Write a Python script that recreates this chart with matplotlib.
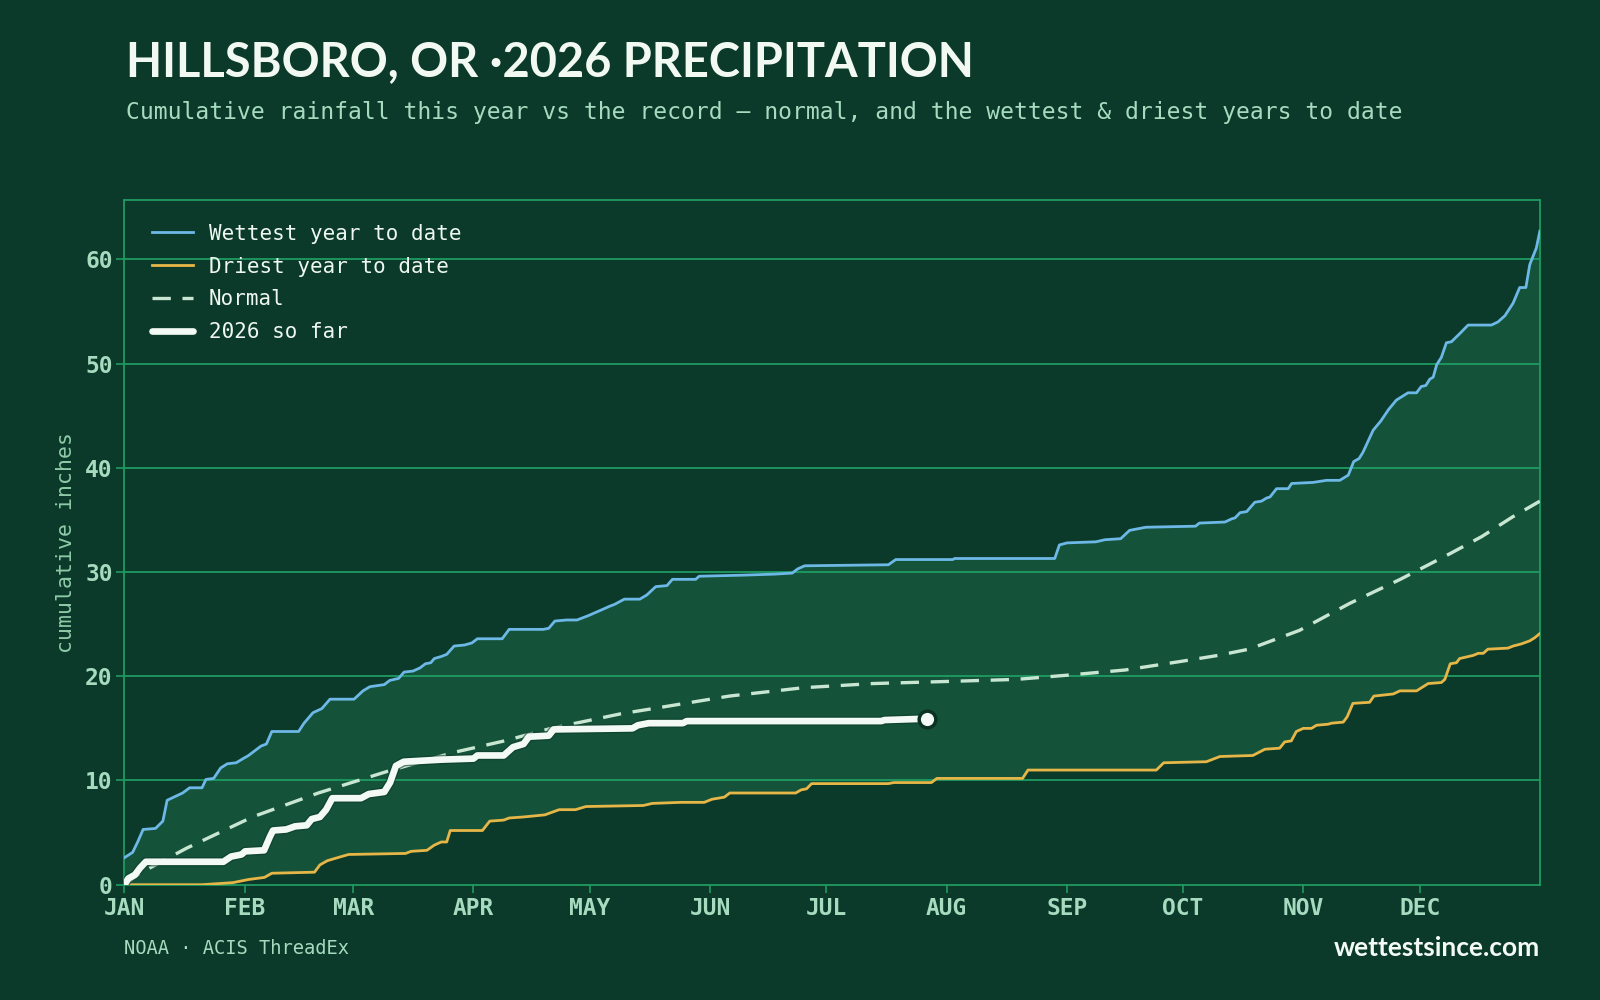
import numpy as np
import matplotlib
matplotlib.use("Agg")
import matplotlib.pyplot as plt
import matplotlib.patheffects as pe

# colours
BG = "#0b3a2a"
BAND = "#145339"
GRID = "#1f9b62"
BLUE = "#6db8e6"
GOLD = "#e6b648"
NORM = "#c9e6d3"
WHITE = "#f3faf5"
MINT = "#a6dbbf"

# month ticks (day of year, Jan 1 = 0)
month_days = [0, 31, 59, 90, 120, 151, 181, 212, 243, 273, 304, 334]
month_labels = ["JAN", "FEB", "MAR", "APR", "MAY", "JUN",
                "JUL", "AUG", "SEP", "OCT", "NOV", "DEC"]

# wettest year to date
wet_day = [0, 2.1, 3.4, 4.8, 8.0, 9.9, 11.0, 12.7, 15.0, 16.8, 20.0, 21.0, 23.0, 24.8,
           26.5, 28.8, 30.6, 32.0, 35.2, 36.6, 38.0, 44.9, 46.3, 48.6, 50.9, 53.0, 59.2,
           61.5, 63.3, 67.0, 68.4, 70.7, 72.1, 74.4, 76.2, 77.6, 79.0, 79.9, 81.7, 83.1,
           85.0, 87.7, 89.6, 91.0, 97.4, 99.2, 108.0, 109.4, 111.0, 114.0, 116.7, 119.5,
           123.2, 125.0, 126.4, 128.9, 132.9, 134.7, 137.0, 139.9, 141.3, 147.3, 148.2,
           159.3, 167.6, 172.2, 173.6, 175.4, 197.0, 198.9, 213.6, 214.1, 239.9, 241.1,
           243.1, 250.5, 252.8, 256.9, 259.2, 263.4, 276.2, 277.2, 283.8, 285.5, 286.4,
           287.7, 289.4, 291.5, 293.2, 294.5, 295.4, 297.1, 300.1, 301.0, 306.5, 310.0,
           313.4, 315.6, 317.0, 318.4, 319.4, 322.0, 324.0, 326.0, 328.0, 331.0, 333.2,
           334.4, 335.6, 336.6, 337.5, 338.4, 339.6, 340.9, 342.2, 344.4, 346.5, 352.5,
           354.2, 356.0, 358.1, 359.8, 361.4, 362.4, 364.1, 365.0]
wet_val = [2.6, 3.1, 4.1, 5.3, 5.4, 6.1, 8.1, 8.4, 8.8, 9.3, 9.3, 10.1, 10.2, 11.2,
           11.6, 11.7, 12.1, 12.4, 13.3, 13.5, 14.7, 14.7, 15.5, 16.5, 16.9, 17.8, 17.8,
           18.6, 19.0, 19.2, 19.6, 19.8, 20.4, 20.5, 20.8, 21.2, 21.3, 21.7, 21.9, 22.1,
           22.9, 23.0, 23.2, 23.6, 23.6, 24.5, 24.5, 24.6, 25.3, 25.4, 25.4, 25.8,
           26.4, 26.7, 26.9, 27.4, 27.4, 27.8, 28.6, 28.7, 29.3, 29.3, 29.6,
           29.7, 29.8, 29.9, 30.3, 30.6, 30.7, 31.2, 31.2, 31.3, 31.3, 32.6,
           32.8, 32.9, 33.1, 33.2, 34.0, 34.3, 34.4, 34.7, 34.8, 35.1, 35.2,
           35.7, 35.8, 36.7, 36.8, 37.1, 37.2, 38.0, 38.0, 38.5, 38.6, 38.8,
           38.8, 39.3, 40.6, 40.9, 41.5, 43.6, 44.5, 45.6, 46.5, 47.2, 47.2,
           47.8, 47.9, 48.5, 48.7, 49.9, 50.6, 52.0, 52.1, 52.9, 53.7, 53.7,
           54.0, 54.6, 55.8, 57.3, 57.3, 59.5, 61.1, 62.7]

# driest year to date
dry_day = [0, 20, 24, 28, 32.0, 36.1, 38.0, 49.0, 50.4, 52.3, 54.1, 57.8, 72.5, 73.9,
           78.0, 79.9, 81.7, 83.1, 84.0, 92.3, 94.2, 97.8, 99.2, 102.9, 108.4, 112.1,
           116.3, 119.0, 133.8, 136.1, 143.3, 149.5, 151.5, 154.7, 156.1, 173.1, 174.5,
           175.9, 177.2, 197.0, 198.4, 208.1, 209.5, 231.6, 233.0, 266.1, 268.0, 279.0,
           282.5, 291.0, 294.1, 297.9, 299.2, 300.9, 302.2, 304.0, 306.1, 307.4, 310.4,
           311.3, 314.3, 315.3, 316.8, 321.1, 322.2, 327.2, 328.9, 333.2, 336.2, 339.6,
           340.5, 341.9, 343.5, 344.3, 347.8, 349.1, 350.4, 351.6, 356.8, 358.1, 360.2,
           362.4, 363.7, 365.0]
dry_val = [0, 0, 0.1, 0.2, 0.5, 0.7, 1.1, 1.2, 1.9, 2.3, 2.5, 2.9, 3.0, 3.2,
           3.3, 3.8, 4.1, 4.1, 5.2, 5.2, 6.1, 6.2, 6.4, 6.5, 6.7, 7.2,
           7.2, 7.5, 7.6, 7.8, 7.9, 7.9, 8.2, 8.4, 8.8, 8.8, 9.1,
           9.2, 9.7, 9.7, 9.8, 9.8, 10.2, 10.2, 11.0, 11.0, 11.7, 11.8,
           12.3, 12.4, 13.0, 13.1, 13.7, 13.8, 14.7, 15.0, 15.0, 15.3, 15.4,
           15.5, 15.6, 16.1, 17.4, 17.5, 18.1, 18.3, 18.6, 18.6, 19.3, 19.4,
           19.7, 21.2, 21.3, 21.7, 22.0, 22.2, 22.2, 22.6, 22.7, 22.9, 23.1,
           23.4, 23.7, 24.1]

# normal
norm_day = [0, 4, 16, 33, 50, 68, 85, 98, 110, 128, 138, 156, 175, 193, 212, 230,
            243, 258, 272, 282, 290, 303, 316, 329, 342, 350, 358, 365]
norm_val = [0.0, 1.1, 3.5, 6.5, 8.8, 10.9, 12.7, 13.8, 15.0, 16.4, 17.0, 18.1, 18.9,
            19.3, 19.5, 19.7, 20.1, 20.6, 21.4, 22.0, 22.6, 24.4, 27.0, 29.3, 31.8,
            33.4, 35.3, 36.8]

# 2026 so far
cur_day = [0, 1.0, 2.7, 4.0, 5.5, 25.5, 27.5, 30.2, 31.1, 36.0, 37.5, 38.3, 41.7, 44.0,
           47.0, 48.3, 50.4, 52.0, 53.6, 61.0, 63.0, 67.0, 68.5, 70.0, 72.0, 81.7, 90.0,
           91.0, 97.8, 100.2, 102.9, 104.3, 109.4, 110.7, 131.0, 132.4, 135.2, 144.0,
           145.0, 195.2, 196.0, 204.4, 207.0]
cur_val = [0.0, 0.6, 0.95, 1.6, 2.2, 2.2, 2.7, 2.9, 3.2, 3.3, 4.6, 5.2, 5.3, 5.6,
           5.7, 6.3, 6.5, 7.2, 8.3, 8.3, 8.7, 8.9, 9.8, 11.4, 11.8, 12.0, 12.1,
           12.4, 12.4, 13.2, 13.5, 14.2, 14.3, 14.9, 15.0, 15.3, 15.5, 15.5,
           15.7, 15.7, 15.8, 15.9, 15.9]

MONO = "DejaVu Sans Mono"
SANS = "Lato"

fig = plt.figure(figsize=(16, 10), dpi=100, facecolor=BG)
ax = fig.add_axes([0.0778, 0.1153, 0.8846, 0.6847], facecolor=BG)

# band between driest and wettest
ax.fill(np.concatenate([wet_day, dry_day[::-1]]),
        np.concatenate([wet_val, dry_val[::-1]]),
        color=BAND, lw=0, zorder=1)

for y in range(10, 70, 10):
    ax.axhline(y, color=GRID, lw=1.3, zorder=1.5)

ax.plot(wet_day, wet_val, color=BLUE, lw=2.0, zorder=3, label="Wettest year to date")
ax.plot(dry_day, dry_val, color=GOLD, lw=2.0, zorder=3, label="Driest year to date")
ax.plot(norm_day, norm_val, color=NORM, lw=2.4, dashes=(5.5, 3.5), zorder=3, label="Normal")
ax.plot(cur_day, cur_val, color=WHITE, lw=4.8, zorder=4, solid_capstyle="round",
        solid_joinstyle="round", label="2026 so far",
        path_effects=[pe.Stroke(linewidth=6.8, foreground="#0d3d2b", alpha=0.6), pe.Normal()])
ax.plot([cur_day[-1]], [cur_val[-1]], "o", ms=12, color=WHITE, mec="#0b3324",
        mew=2.5, zorder=5)

ax.set_xlim(0, 365)
ax.set_ylim(0, 65.7)
ax.set_xticks(month_days)
ax.set_xticklabels(month_labels)
ax.set_yticks(range(0, 70, 10))
for sp in ax.spines.values():
    sp.set_color(GRID)
    sp.set_linewidth(1.3)
ax.tick_params(axis="both", colors=GRID, length=6, width=1.2)
for lab in ax.get_xticklabels() + ax.get_yticklabels():
    lab.set_fontfamily(MONO)
    lab.set_fontweight("bold")
    lab.set_fontsize(16.5)
    lab.set_color(MINT)
ax.tick_params(axis="x", pad=3)
ax.tick_params(axis="y", pad=2.5)
ax.set_ylabel("cumulative inches", fontsize=15.5, family=MONO, color="#8fcaa8")
ax.yaxis.set_label_coords(-0.034, 0.5)

leg = ax.legend(loc="upper left", frameon=False, prop={"family": MONO, "size": 15},
                handlelength=2.0, handletextpad=0.75, labelspacing=0.62,
                borderaxespad=0.9, bbox_to_anchor=(0.0, 1.005))
for t in leg.get_texts():
    t.set_color("#eef7f1")

fig.text(0.079, 0.924, "HILLSBORO, OR \u00b72026 PRECIPITATION", fontsize=33.8,
         fontweight="bold", family=SANS, color="#f2f9f3", va="baseline")
fig.text(0.0785, 0.887, "Cumulative rainfall this year vs the record \u2014 normal, and the wettest & driest years to date",
         fontsize=16.6, family=MONO, color=MINT, va="center")
fig.text(0.0778, 0.052, "NOAA \u00b7 ACIS ThreadEx", fontsize=13.5, family=MONO,
         color=MINT, va="center")
fig.text(0.9624, 0.052, "wettestsince.com", fontsize=19, fontweight="bold",
         family=SANS, color="#f4faf6", va="center", ha="right")

fig.savefig("out.png", dpi=100, facecolor=BG)
